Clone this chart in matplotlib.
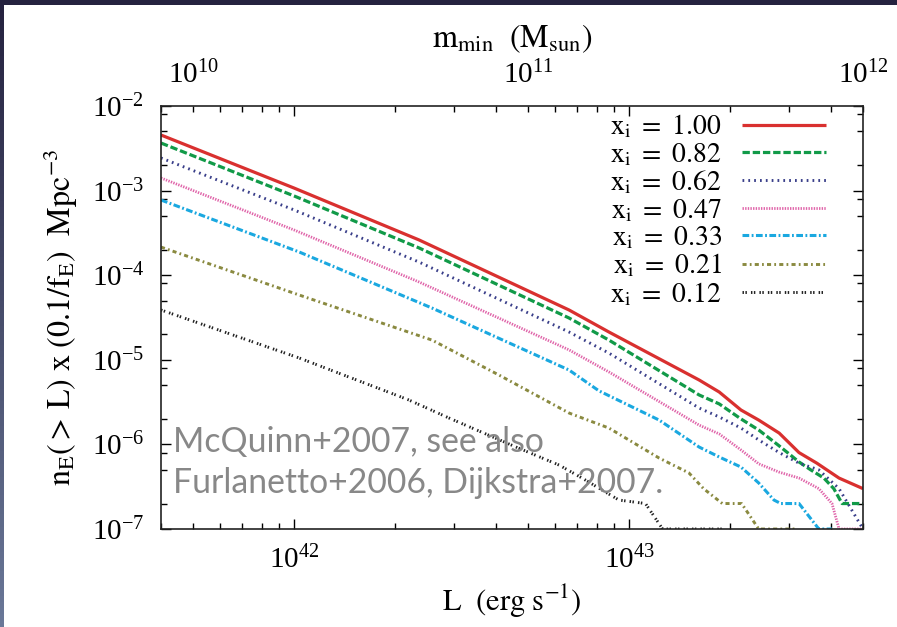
import numpy as np
import matplotlib
matplotlib.use("Agg")
import matplotlib.pyplot as plt
from matplotlib.ticker import LogLocator, LogFormatterMathtext, NullLocator, NullFormatter

plt.rcParams["font.family"] = ["Liberation Serif", "DejaVu Serif"]
plt.rcParams["mathtext.fontset"] = "stix"

# ---- data ----
labels = ["1.00", "0.82", "0.62", "0.47", "0.33", "0.21", "0.12"]

L_100 = [4.0e41, 1.0e42, 2.36e42, 6.62e42, 8.71e42, 1.62e43, 1.86e43, 2.16e43,
         2.44e43, 2.81e43, 3.22e43, 3.64e43, 4.24e43, 5.0e43]
n_100 = [4.54e-3, 1.07e-3, 2.61e-4, 3.88e-5, 2.13e-5, 5.77e-6, 4.16e-6, 2.55e-6,
         1.94e-6, 1.36e-6, 8.0e-7, 6.0e-7, 4.0e-7, 3.0e-7]

L_082 = [4.0e41, 1.0e42, 2.36e42, 6.62e42, 8.71e42, 1.62e43, 1.86e43, 2.16e43,
         2.44e43, 2.81e43, 3.22e43, 3.49e43, 3.82e43, 4.09e43, 4.33e43, 5.0e43]
n_082 = [3.65e-3, 8.63e-4, 2.10e-4, 3.12e-5, 1.71e-5, 3.84e-6, 3.01e-6, 2.00e-6,
         1.48e-6, 9.6e-7, 6.2e-7, 5.0e-7, 4.0e-7, 3.0e-7, 2.0e-7, 2.0e-7]

L_062 = [4.0e41, 1.0e42, 2.36e42, 6.62e42, 8.71e42, 1.62e43, 1.86e43, 2.16e43,
         2.44e43, 2.81e43, 3.22e43, 3.69e43, 4.24e43, 5.0e43]
n_062 = [2.43e-3, 5.90e-4, 1.43e-4, 2.13e-5, 1.20e-5, 2.69e-6, 2.11e-6, 1.56e-6,
         1.13e-6, 8.0e-7, 6.0e-7, 5.0e-7, 3.0e-7, 1.0e-7]

L_047 = [4.0e41, 1.0e42, 2.36e42, 6.62e42, 8.71e42, 1.62e43, 1.86e43, 2.16e43,
         2.44e43, 2.81e43, 3.22e43, 3.69e43, 4.04e43, 4.24e43, 5.0e43]
n_047 = [1.41e-3, 3.42e-4, 8.31e-5, 1.31e-5, 7.18e-6, 1.69e-6, 1.33e-6, 8.6e-7,
         5.9e-7, 4.7e-7, 4.0e-7, 3.0e-7, 2.0e-7, 1.0e-7, 1.0e-7]

L_033 = [4.0e41, 1.035e42, 2.58e42, 6.62e42, 8.13e42, 1.23e43, 1.62e43, 1.86e43,
         2.16e43, 2.44e43, 2.71e43, 2.84e43, 3.22e43, 3.69e43, 4.04e43]
n_033 = [7.74e-4, 1.88e-4, 4.09e-5, 7.57e-6, 4.3e-6, 1.94e-6, 9.3e-7, 7.1e-7,
         5.4e-7, 3.5e-7, 2.2e-7, 2.0e-7, 2.0e-7, 1.0e-7, 1.0e-7]

L_021 = [4.0e41, 1.035e42, 2.58e42, 4.09e42, 6.62e42, 8.71e42, 1.23e43, 1.51e43,
         1.67e43, 1.90e43, 2.17e43, 2.44e43, 3.15e43]
n_021 = [2.15e-4, 5.83e-5, 1.71e-5, 6.60e-6, 2.35e-6, 1.56e-6, 6.9e-7, 4.6e-7,
         3.0e-7, 2.0e-7, 2.0e-7, 1.0e-7, 1.0e-7]

L_012 = [4.0e41, 1.035e42, 2.20e42, 2.90e42, 4.60e42, 6.18e42, 7.24e42, 9.33e42,
         1.12e43, 1.26e43, 1.90e43]
n_012 = [3.88e-5, 1.05e-5, 3.35e-6, 2.05e-6, 9.3e-7, 5.7e-7, 4.0e-7, 2.2e-7,
         2.0e-7, 1.0e-7, 1.0e-7]

series_L = [L_100, L_082, L_062, L_047, L_033, L_021, L_012]
series_n = [n_100, n_082, n_062, n_047, n_033, n_021, n_012]

# m_min corresponding to L (top axis): 1e12 Msun at 5e43 erg/s
m_per_L = 2e-32

colors = ["#d9302f", "#119a48", "#3a3f8a", "#e066aa", "#1aa8e0", "#8a8a40", "#222222"]
styles = ["-", (0, (2.3, 0.9)), (0, (0.6, 1.4)), (0, (0.5, 0.45)),
          (0, (2.2, 0.8, 0.6, 0.8)), (0, (1.4, 1.1, 0.6, 1.1)), (0, (0.5, 0.5, 0.5, 1.4))]
widths = [2.3, 2.3, 2.1, 2.0, 2.2, 2.1, 2.1]

fig = plt.figure(figsize=(8.97, 6.27), dpi=100)
fig.patch.set_facecolor("white")

# slide frame: thin dark band on top and gradient on the left
top_band = fig.add_axes([0, 1 - 5 / 627, 1, 5 / 627])
top_band.axis("off")
top_band.add_patch(plt.Rectangle((0, 0), 1, 1, color="#25223f", transform=top_band.transAxes))
left_band = fig.add_axes([0, 0, 3 / 897, 1])
left_band.imshow(np.linspace(0, 1, 100).reshape(-1, 1), aspect="auto",
                 cmap=matplotlib.colors.LinearSegmentedColormap.from_list("b", ["#25223f", "#6a7898"]))
left_band.axis("off")

ax = fig.add_axes([161 / 897, 1 - 529 / 627, 702 / 897, 423 / 627])

for Ls, ns, lab, c, st, lw in zip(series_L, series_n, labels, colors, styles, widths):
    ax.plot(Ls, ns, color=c, linestyle=st, linewidth=lw,
            label=r"$\mathrm{x_i\ =\ " + lab + "}$", solid_capstyle="butt",
            dash_capstyle="butt")

ax.set_xscale("log")
ax.set_yscale("log")
ax.set_xlim(4.0e41, 5.0e43)
ax.set_ylim(1e-7, 1e-2)

ax.yaxis.set_minor_locator(LogLocator(base=10, subs=(2.0, 5.0, 8.0)))
ax.yaxis.set_minor_formatter(NullFormatter())
ax.xaxis.set_minor_formatter(NullFormatter())
ax.xaxis.set_major_formatter(LogFormatterMathtext())
ax.yaxis.set_major_formatter(LogFormatterMathtext())

ax.tick_params(which="both", direction="in", top=True, right=True, labelsize=21, width=1.0)
ax.tick_params(which="major", length=7)
ax.tick_params(which="minor", length=4)
ax.tick_params(axis="x", which="major", pad=12)
ax.tick_params(axis="y", which="major", pad=12)
for sp in ax.spines.values():
    sp.set_linewidth(1.2)
    sp.set_color("#222222")

ax.set_xlabel(r"$\mathrm{L\ \ (erg\ s^{-1})}$", fontsize=22, labelpad=6)
ax.set_ylabel(r"$\mathrm{n_E(>\,L)\ x\ (0.1/f_E)\ \ Mpc^{-3}}$", fontsize=23, labelpad=8)

sec = ax.secondary_xaxis("top", functions=(lambda L: L * m_per_L, lambda m: m / m_per_L))
sec.set_xticks([1e10, 1e11, 1e12])
sec.xaxis.set_major_formatter(LogFormatterMathtext())
sec.xaxis.set_minor_locator(NullLocator())
sec.tick_params(which="both", length=0, labelsize=21, pad=12)
sec.spines["top"].set_visible(False)
sec.set_xlabel(r"$\mathrm{m_{min}\ \ (M_{sun})}$", fontsize=23, labelpad=10)

leg = ax.legend(loc="upper right", bbox_to_anchor=(0.947, 0.985), frameon=False,
                markerfirst=False, fontsize=20, handlelength=3.0, handletextpad=0.75,
                labelspacing=0.02, borderpad=0, borderaxespad=0)

fig.text(173 / 897, 1 - 452 / 627, "McQuinn+2007, see also", color="#888888",
         fontsize=24.3, family="Lato", va="baseline")
fig.text(173 / 897, 1 - 493 / 627, "Furlanetto+2006, Dijkstra+2007.", color="#888888",
         fontsize=24.3, family="Lato", va="baseline")

fig.savefig("out.png", dpi=100, facecolor="white")
